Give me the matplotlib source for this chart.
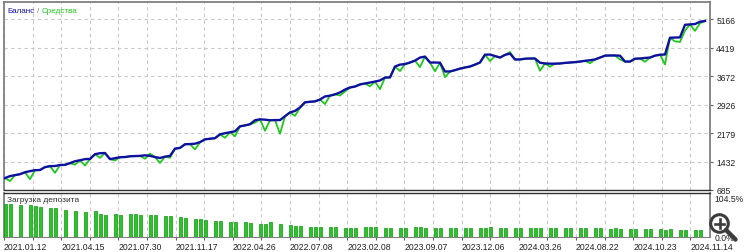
'''
MT5 style tester chart: balance / equity with deposit load bars.
'''

import numpy as np
import matplotlib
matplotlib.use('Agg')
from matplotlib import pyplot as plt
from matplotlib.patches import Circle

plt.rcParams['font.family'] = ['Liberation Sans', 'DejaVu Sans']

######################

# balance after each step (trade index)
balance = [998, 1050, 1075, 1100, 1150, 1180, 1205, 1210, 1285, 1310,
           1315, 1340, 1345, 1390, 1440, 1465, 1495, 1500, 1625, 1650,
           1655, 1495, 1520, 1545, 1550, 1570, 1575, 1580, 1595, 1580,
           1550, 1525, 1560, 1580, 1770, 1790, 1885, 1890, 1900, 1940,
           2015, 2030, 2045, 2145, 2175, 2200, 2225, 2355, 2380, 2410,
           2515, 2540, 2530, 2515, 2520, 2520, 2620, 2720, 2760, 2850,
           2985, 3000, 3010, 3060, 3140, 3160, 3195, 3245, 3320, 3375,
           3400, 3455, 3480, 3505, 3530, 3560, 3635, 3640, 3925, 3975,
           3990, 4030, 4080, 4160, 4185, 4030, 4030, 4025, 3795, 3795,
           3830, 3870, 3900, 3925, 3975, 4030, 4235, 4240, 4200, 4160,
           4230, 4265, 4110, 4110, 4130, 4135, 4135, 4025, 4005, 4000,
           4000, 4005, 4020, 4030, 4040, 4055, 4075, 4090, 4110, 4160,
           4210, 4215, 4215, 4210, 4055, 4055, 4130, 4135, 4150, 4160,
           4210, 4235, 4240, 4680, 4685, 4690, 5020, 5030, 5040, 5100,
           5120]

# floating loss (balance - equity) where the equity dips
drawdown = {1: 130, 5: 210, 10: 180, 14: 90, 16: 170, 19: 120, 22: 60,
            28: 90, 29: -60, 31: 130, 33: 50, 38: 150, 44: 120, 46: 130,
            50: 60, 52: 290, 55: 360, 58: 130, 64: 200, 67: 80, 68: 50,
            73: 100, 75: 230, 79: 170, 83: 250, 86: 230, 88: 150, 97: 170,
            101: -40, 107: 210, 109: 80, 117: 80, 123: 100, 128: 100,
            132: 260, 134: 100, 135: 120, 136: 150, 138: 180, 139: 40}

# deposit load, %
load = [88, 88, 0, 87, 0, 85, 84, 80, 0, 78, 78, 0, 72, 0, 70, 0, 66, 0, 70, 62,
        58, 0, 62, 60, 0, 62, 61, 60, 0, 59, 58, 0, 57, 56, 0, 53, 52, 0, 48, 47,
        46, 0, 44, 43, 0, 40, 40, 0, 39, 38, 0, 36, 35, 39, 0, 35, 0, 31, 30, 30,
        0, 27, 27, 26, 0, 26, 26, 0, 25, 25, 25, 0, 27, 28, 26, 0, 25, 25, 0, 25,
        24, 0, 26, 27, 25, 0, 25, 24, 0, 25, 24, 0, 24, 25, 0, 24, 24, 26, 0, 25,
        24, 0, 25, 24, 0, 24, 25, 24, 0, 24, 24, 0, 23, 24, 0, 24, 23, 0, 23, 23,
        0, 22, 23, 22, 0, 22, 21, 0, 22, 21, 0, 21, 20, 21, 0, 20, 19, 0, 18, 18]

date_labels = ['2021.01.12', '2021.04.15', '2021.07.30', '2021.11.17',
               '2022.04.26', '2022.07.08', '2023.02.08', '2023.09.07',
               '2023.12.06', '2024.03.26', '2024.08.22', '2024.10.23',
               '2024.11.14']

value_ticks = [685, 1432, 2179, 2926, 3672, 4419, 5166]
load_ticks = [0, 104.5]

######################

balance = np.array(balance, dtype=float)
equity = balance.copy()
for k, v in drawdown.items():
    equity[k] -= v
steps = np.arange(len(balance))

W, H = 750, 253
fig = plt.figure(figsize=(W / 100, H / 100), dpi=100)


def box(l, t, r, b):
    return [l / W, 1 - b / H, (r - l) / W, (b - t) / H]


ax = fig.add_axes(box(4, 3, 710, 191))
ax2 = fig.add_axes(box(4, 193.5, 710, 238), sharex=ax)

grid_x = -0.2 + 5.72 * np.arange(25)
grid_kw = dict(color='#c8c8c8', linestyle=(0, (3, 3)), linewidth=0.8)

# main panel
ax.plot(steps, equity, color='#1ec81e', lw=1.3, zorder=3)
ax.plot(steps, balance, color='#1010a0', lw=1.7, zorder=4)
ax.set_xlim(-0.2, 141.0)
ax.set_ylim(685, 5618)
ax.set_xticks(grid_x)
ax.set_yticks(value_ticks)
ax.set_yticklabels([str(v) for v in value_ticks])
ax.yaxis.tick_right()
ax.tick_params(axis='y', length=2.5, width=0.8, color='#606060', pad=2,
               labelsize=6.2, labelcolor='#202020')
ax.tick_params(axis='x', length=0, labelbottom=False)
ax.grid(True, **grid_kw)
for s in ax.spines.values():
    s.set_color('#808080')
    s.set_linewidth(1.3)
ax.spines['bottom'].set_color('#303030')
ax.spines['bottom'].set_linewidth(1.0)

# load panel
ax2.bar(np.arange(len(load)), load, width=0.6, color='#2cc22c',
        edgecolor='#0a9a0a', linewidth=0.5, zorder=3)
ax2.set_ylim(0, 119.2)
ax2.set_yticks(load_ticks)
ax2.set_yticklabels(['0.0%', '104.5%'])
ax2.yaxis.tick_right()
ax2.tick_params(axis='y', length=0, pad=3, labelsize=6.2, labelcolor='#202020')
for lab in ax2.get_yticklabels():
    lab.set_bbox(dict(facecolor='white', edgecolor='none', pad=0.3))
ax2.set_xticks(grid_x)
ax2.set_xticklabels([date_labels[k // 2] if k % 2 == 0 else ''
                     for k in range(len(grid_x))],
                    ha='left', fontsize=6.2, color='#202020')
ax2.tick_params(axis='x', length=2, width=0.8, color='#606060', pad=1.5)
ax2.grid(True, axis='x', **grid_kw)
for s in ax2.spines.values():
    s.set_color('#808080')
    s.set_linewidth(1.3)
ax2.spines['top'].set_color('#303030')
ax2.spines['top'].set_linewidth(1.0)
ax2.spines['bottom'].set_linewidth(0.8)

# captions
fig.text(7 / W, 1 - 12 / H, 'Баланс', color='#1010a0', fontsize=5.8, va='center')
fig.text(37 / W, 1 - 12 / H, '/', color='#808080', fontsize=5.8, va='center')
fig.text(41.5 / W, 1 - 12 / H, 'Средства', color='#1ec81e', fontsize=5.8,
         va='center')
fig.text(7 / W, 1 - 201 / H, 'Загрузка депозита', color='#303030', fontsize=6.0,
         va='center')

# zoom icon in the corner
ov = fig.add_axes([0, 0, 1, 1])
ov.set_xlim(0, W)
ov.set_ylim(H, 0)
ov.axis('off')
ov.plot([726, 735.5], [231, 240.5], color='#3c3c3c', lw=3.2,
        solid_capstyle='round')
ov.add_patch(Circle((719.5, 224.5), 8.8, facecolor='white', edgecolor='#3c3c3c',
                    linewidth=2.2))
ov.plot([715, 724], [224.5, 224.5], color='#3c3c3c', lw=1.9)
ov.plot([719.5, 719.5], [220, 229], color='#3c3c3c', lw=1.9)

fig.savefig('out.png', dpi=100, facecolor='white')
